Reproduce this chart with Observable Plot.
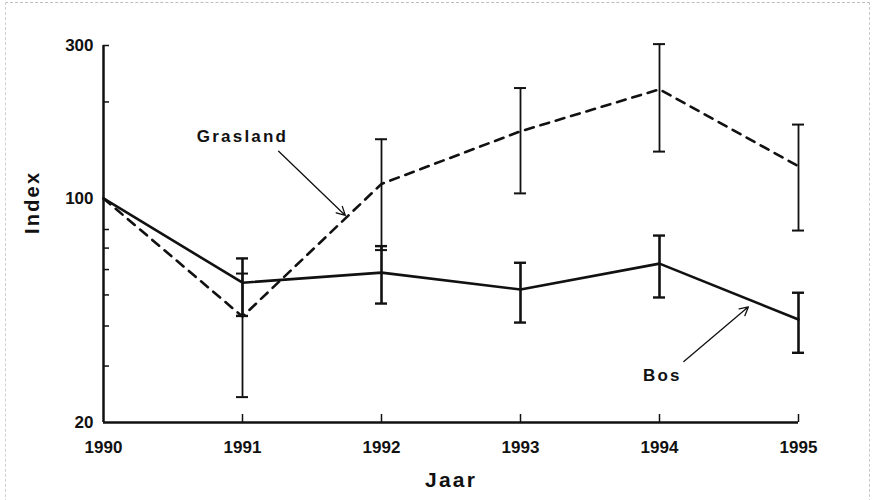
<!DOCTYPE html>
<html>
<head>
<meta charset="utf-8">
<script src="https://cdn.jsdelivr.net/npm/d3@7"></script>
<script src="https://cdn.jsdelivr.net/npm/@observablehq/plot@0.6"></script>
<style>
  html, body { margin: 0; padding: 0; background: #fff; }
  #wrap { position: relative; width: 877px; height: 500px; overflow: hidden; }
  #scan { position: absolute; left: 5px; top: 2px; width: 865px; height: 520px;
          border-top: 1px dashed #bdbdbd; border-left: 1px dashed #d0d0d0; border-right: 1px dashed #c8c8c8; box-sizing: border-box; pointer-events: none; }
</style>
</head>
<body>
<div id="wrap"><div id="scan"></div><div id="chart"></div></div>
<script>
// ---- data ----
const years    = [1990, 1991, 1992, 1993, 1994, 1995];
const bos      = [100, 54.6, 58.7, 52.0, 62.6, 41.9];
const bosLow   = [null, 43.0, 47.0, 41.0, 49.1, 33.0];
const bosHigh  = [null, 65.0, 71.0, 63.0, 76.6, 50.8];
const gras     = [100, 42.8, 111, 162, 219, 126];
const grasLow  = [null, 24.0, 69.0, 103.7, 140, 79.4];
const grasHigh = [null, 58.3, 153, 221, 303, 170];

const xTickLabels = [1990, 1991, 1992, 1993, 1994, 1995];
const xTickMarks  = [1991, 1992, 1993, 1994, 1995];
const yTickLabels = [20, 100, 300];
const yTickMarks  = [30, 40, 50, 60, 70, 80, 200, 300];

const seriesLabels = ["Grasland", "Bos"];
const labelYear    = [1991.0, 1994.02];
const labelValue   = [156, 28.0];
const arrowFromYear  = [1991.26, 1994.175];
const arrowFromValue = [140.3, 31.0];
const arrowToYear    = [1991.74, 1994.64];
const arrowToValue   = [88.5, 45.9];

const xTitle = "Jaar";
const yTitle = "Index";

// ---- tables built from the arrays ----
const rows = years.map((year, i) => ({
  year, bos: bos[i], bosLow: bosLow[i], bosHigh: bosHigh[i],
  gras: gras[i], grasLow: grasLow[i], grasHigh: grasHigh[i]
}));
const errRows = rows.filter(d => d.bosLow != null);
const labels = seriesLabels.map((name, i) => ({name, year: labelYear[i], value: labelValue[i]}));
const arrows = seriesLabels.map((name, i) => ({
  x1: arrowFromYear[i], y1: arrowFromValue[i], x2: arrowToYear[i], y2: arrowToValue[i]
}));

const font = "'Liberation Sans', Arial, Helvetica, sans-serif";

const chart = Plot.plot({
  width: 877,
  height: 500,
  marginLeft: 103,
  marginRight: 79,
  marginTop: 45,
  marginBottom: 78,
  style: {fontFamily: font, color: "#111", background: "transparent", overflow: "visible"},
  x: {domain: [1990, 1995], axis: null},
  y: {type: "log", domain: [20, 300], axis: null},
  marks: [
    // axis lines
    Plot.ruleX([1990], {stroke: "#111", strokeWidth: 2.5}),
    Plot.ruleY([20], {stroke: "#111", strokeWidth: 2.5}),
    // inward tick marks
    Plot.axisY(yTickMarks, {fill: "none", tickSize: 6, dx: 6, strokeWidth: 1.5, stroke: "#111", label: null}),
    Plot.axisX(xTickMarks, {fill: "none", tickSize: 8, dy: -8, strokeWidth: 1.5, stroke: "#111", label: null}),
    // tick labels
    Plot.axisY(yTickLabels, {tickSize: 0, tickPadding: 10, fontSize: 17, fontWeight: "bold", fill: "#111", label: null, tickFormat: d => String(d)}),
    Plot.axisX(xTickLabels, {tickSize: 0, tickPadding: 18, fontSize: 17, fontWeight: "bold", fill: "#111", label: null, tickFormat: d => String(d)}),
    // axis titles
    Plot.text([xTitle], {frameAnchor: "bottom", dy: 58, text: d => d, fontSize: 21, fontWeight: "bold", fill: "#111", lineAnchor: "middle"}),
    Plot.text([yTitle], {frameAnchor: "left", dx: -71, rotate: -90, text: d => d, fontSize: 20, fontWeight: "bold", fill: "#111", lineAnchor: "middle"}),
    // error bars
    Plot.ruleX(errRows, {x: "year", y1: "grasLow", y2: "grasHigh", stroke: "#111", strokeWidth: 1.8}),
    Plot.ruleY(errRows, {y: "grasLow", x1: "year", x2: "year", insetLeft: -6, insetRight: -6, stroke: "#111", strokeWidth: 2}),
    Plot.ruleY(errRows, {y: "grasHigh", x1: "year", x2: "year", insetLeft: -6, insetRight: -6, stroke: "#111", strokeWidth: 2}),
    Plot.ruleX(errRows, {x: "year", y1: "bosLow", y2: "bosHigh", stroke: "#111", strokeWidth: 2.6}),
    Plot.ruleY(errRows, {y: "bosLow", x1: "year", x2: "year", insetLeft: -6, insetRight: -6, stroke: "#111", strokeWidth: 2.4}),
    Plot.ruleY(errRows, {y: "bosHigh", x1: "year", x2: "year", insetLeft: -6, insetRight: -6, stroke: "#111", strokeWidth: 2.4}),
    // series lines
    Plot.line(rows, {x: "year", y: "gras", stroke: "#111", strokeWidth: 2.6, strokeDasharray: "9,7"}),
    Plot.line(rows, {x: "year", y: "bos", stroke: "#111", strokeWidth: 2.6}),
    // annotations
    Plot.arrow(arrows, {x1: "x1", y1: "y1", x2: "x2", y2: "y2", stroke: "#111", strokeWidth: 1.3, headLength: 11, headAngle: 55}),
    Plot.text(labels, {x: "year", y: "value", text: "name", fontSize: 17, fontWeight: "bold", fill: "#111", lineAnchor: "middle"})
  ]
});

d3.select(chart).selectAll('g[aria-label="text"] text').style("letter-spacing", "2.2px");
document.getElementById("chart").appendChild(chart);
</script>
</body>
</html>
